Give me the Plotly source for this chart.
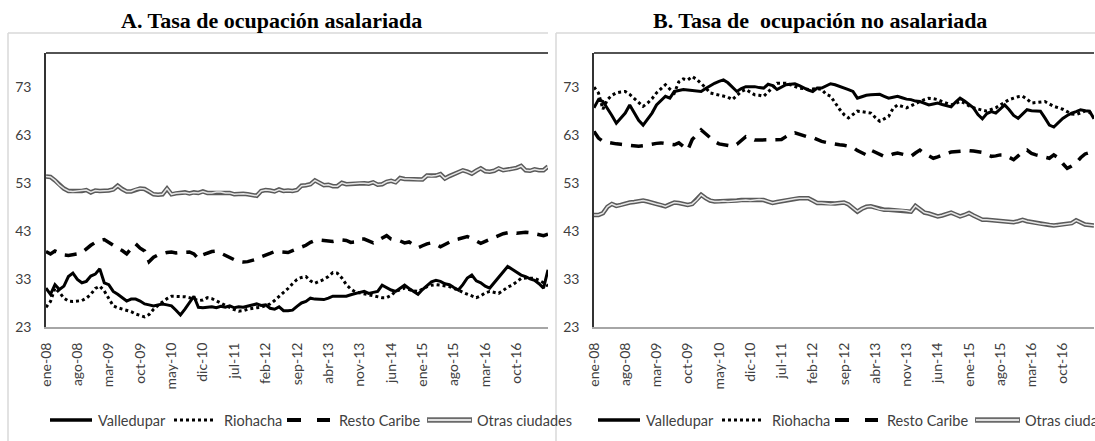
import plotly.graph_objects as go

# ---------------- data (monthly, ene-08 .. may-17) ----------------
months = list(range(113))
tick_pos = [0, 7, 14, 21, 28, 35, 42, 49, 56, 63, 70, 77, 84, 91, 98, 105]
tick_labels = ["ene-08", "ago-08", "mar-09", "oct-09", "may-10", "dic-10", "jul-11", "feb-12",
               "sep-12", "abr-13", "nov-13", "jun-14", "ene-15", "ago-15", "mar-16", "oct-16"]
y_ticks = [23, 33, 43, 53, 63, 73]

series_names = ["Valledupar", "Riohacha", "Resto Caribe", "Otras ciudades"]

A_valledupar = [
    31.1, 29.8, 31.8, 30.8, 31.5, 33.5, 34.2, 32.9, 32.2, 32.5,
    33.6, 34.0, 35.1, 32.2, 31.8, 30.4, 29.8, 29.1, 28.4, 28.8,
    28.8, 28.4, 27.8, 27.6, 27.4, 27.6, 27.8, 27.6, 27.4, 26.5,
    25.5, 26.7, 28.0, 29.4, 27.1, 27.0, 27.1, 27.2, 27.0, 27.3,
    27.1, 27.4, 27.0, 27.2, 27.1, 27.3, 27.6, 27.8, 27.5, 27.6,
    26.9, 26.7, 27.2, 26.4, 26.4, 26.5, 27.3, 28.0, 28.3, 29.0,
    28.8, 28.7, 28.7, 29.0, 29.4, 29.4, 29.4, 29.4, 29.7, 30.0,
    30.2, 30.4, 30.0, 30.2, 30.4, 31.7, 31.2, 30.7, 30.4, 31.0,
    31.7, 31.0, 30.4, 29.8, 30.8, 31.7, 32.4, 32.7, 32.5, 32.0,
    31.8, 31.2, 30.7, 31.8, 33.2, 33.8, 32.6, 32.2, 31.5, 31.1,
    32.2, 33.5, 34.6, 35.6, 35.0, 34.4, 33.8, 33.5, 33.0, 32.7,
    32.0, 31.1, 34.9]

A_riohacha = [
    27.1, 28.3, 31.1, 30.2, 29.0, 28.4, 28.3, 28.4, 28.5, 29.0,
    29.8, 31.0, 31.5, 30.5, 29.0, 27.4, 27.0, 26.7, 26.5, 26.2,
    25.7, 25.4, 25.1, 25.6, 26.7, 27.5, 28.2, 28.9, 29.4, 29.4,
    29.4, 29.3, 29.1, 28.8, 28.5, 28.6, 29.1, 28.9, 28.5, 28.0,
    27.5, 27.0, 26.6, 26.3, 26.4, 26.7, 26.9, 27.0, 27.1, 27.4,
    27.8, 28.5, 29.3, 30.2, 31.0, 32.0, 32.9, 33.3, 33.5, 32.6,
    32.1, 32.5, 32.9, 33.5, 34.3, 34.2, 33.2, 31.8, 30.9, 30.3,
    30.1, 29.9, 29.6, 29.4, 29.2, 29.1, 29.1, 29.6, 30.4, 30.8,
    31.1, 30.8, 30.5, 30.4, 30.9, 31.4, 31.7, 31.8, 31.7, 31.6,
    31.4, 31.0, 30.7, 30.2, 29.8, 29.4, 29.1, 29.5, 30.1, 30.4,
    30.2, 30.0, 30.6, 31.3, 31.7, 32.4, 33.1, 33.2, 33.1, 33.1,
    32.7, 32.2, 31.5]

A_resto = [
    38.7, 38.2, 38.8, 38.3, 38.0, 37.9, 38.0, 38.2, 38.5, 39.3,
    40.0, 40.6, 41.0, 41.2, 40.6, 39.8, 39.4, 38.9, 38.2, 39.3,
    40.3, 39.4, 38.8, 36.6, 37.5, 38.0, 38.3, 38.5, 38.6, 38.4,
    38.5, 38.5, 38.6, 38.2, 37.2, 38.0, 38.3, 38.7, 38.8, 38.3,
    37.8, 37.3, 37.0, 36.6, 36.5, 36.6, 36.8, 37.1, 37.6, 37.9,
    38.3, 38.7, 38.6, 38.6, 38.5, 38.9, 39.3, 39.5, 40.0, 40.6,
    41.0, 41.1, 41.0, 40.8, 40.8, 41.0, 41.1, 41.0, 40.6, 40.7,
    41.3, 41.3, 40.9, 40.5, 41.0, 41.5, 42.0, 41.3, 41.1, 40.9,
    40.5, 40.7, 40.1, 39.5, 39.9, 40.3, 40.5, 40.2, 39.7, 40.2,
    40.7, 41.1, 41.3, 41.6, 41.8, 41.4, 40.8, 40.4, 40.8, 41.2,
    41.6, 42.0, 42.4, 42.6, 42.7, 42.5, 42.6, 42.7, 42.6, 42.4,
    42.2, 42.0, 42.3]

A_otras = [
    54.3, 54.2, 53.5, 52.5, 51.8, 51.3, 51.2, 51.3, 51.3, 51.5,
    51.0, 51.4, 51.3, 51.3, 51.4, 51.6, 52.4, 51.7, 51.2, 51.2,
    51.6, 51.8, 51.7, 51.2, 50.6, 50.5, 50.6, 51.8, 50.6, 50.8,
    50.9, 51.0, 50.8, 51.0, 50.9, 51.2, 50.9, 50.9, 51.1, 51.1,
    50.9, 50.9, 50.6, 50.7, 50.7, 50.6, 50.4, 50.3, 51.3, 51.5,
    51.4, 51.2, 51.6, 51.3, 51.4, 51.3, 51.5, 52.4, 52.5, 52.7,
    53.5, 53.0, 52.5, 52.6, 52.3, 52.3, 53.0, 52.7, 52.8, 52.9,
    52.9, 52.9, 52.8, 53.1, 52.6, 52.7, 53.2, 53.4, 53.1, 54.0,
    53.8, 53.8, 53.7, 53.7, 53.7, 54.5, 54.4, 54.5, 54.8, 53.9,
    54.4, 54.8, 55.2, 55.6, 55.3, 54.9, 55.5, 56.0, 55.4, 55.3,
    55.5, 56.0, 55.6, 55.7, 55.9, 56.1, 56.5, 55.6, 55.5, 55.8,
    55.6, 55.6, 56.4]

B_valledupar = [
    68.6, 70.3, 69.9, 68.5, 67.0, 65.4, 66.5, 67.5, 69.2, 67.5,
    66.0, 65.0, 66.2, 67.5, 69.2, 70.2, 71.0, 70.6, 72.0, 72.2,
    72.4, 72.3, 72.2, 72.1, 72.0, 72.6, 73.2, 73.7, 74.1, 74.4,
    73.8, 73.0, 72.0, 72.6, 73.0, 73.0, 73.0, 72.8, 72.7, 73.5,
    73.2, 72.4, 72.9, 73.4, 73.5, 73.6, 73.2, 72.7, 72.3, 72.0,
    72.7, 72.7, 73.2, 73.6, 73.4, 73.1, 72.8, 72.4, 72.0, 70.6,
    70.9, 71.2, 71.3, 71.4, 71.4, 71.0, 70.6, 70.8, 71.0, 70.7,
    70.4, 70.3, 70.0, 69.9, 69.6, 69.2, 69.4, 69.6, 69.3, 69.0,
    68.8, 69.8, 70.6, 70.0, 69.2, 68.6, 67.2, 66.3, 67.4, 67.8,
    67.5, 68.3, 69.2, 68.2, 67.0, 66.4, 67.4, 68.2, 68.0, 67.9,
    67.9, 66.5, 65.0, 64.6, 65.6, 66.4, 67.0, 67.5, 67.8, 68.2,
    68.0, 67.9, 66.3]

B_riohacha = [
    72.9, 71.7, 68.3, 70.3, 71.2, 71.7, 71.9, 72.0, 71.4, 70.6,
    69.6, 68.9, 69.6, 70.5, 71.7, 72.6, 73.4, 72.5, 71.7, 74.0,
    74.6, 74.4, 75.1, 74.5, 73.7, 72.8, 71.7, 71.5, 71.2, 71.0,
    70.8, 70.3, 71.2, 72.0, 72.4, 71.8, 71.3, 71.2, 71.0, 71.9,
    72.8, 73.7, 73.7, 73.7, 73.4, 73.0, 72.7, 72.6, 72.4, 72.5,
    72.6, 72.4, 71.4, 71.0, 69.6, 68.3, 67.2, 66.5, 67.2, 67.9,
    67.8, 67.6, 67.5, 66.6, 65.8, 66.3, 66.8, 68.5, 69.2, 68.9,
    68.6, 69.0, 69.5, 69.9, 70.3, 70.6, 70.5, 70.3, 69.9, 69.5,
    69.2, 69.5, 69.9, 69.6, 69.0, 68.6, 68.3, 68.1, 67.9, 68.2,
    68.6, 69.2, 69.8, 70.3, 70.6, 70.9, 71.0, 70.4, 69.6, 69.7,
    69.8, 69.9, 69.4, 68.9, 68.6, 68.3, 67.8, 67.3, 67.2, 67.6,
    67.9, 67.6, 67.2]

B_resto = [
    63.7, 62.3, 61.6, 61.4, 61.3, 61.1, 61.0, 60.9, 60.7, 60.6,
    60.6, 60.7, 60.9, 61.1, 61.2, 61.3, 61.2, 61.0, 60.9, 61.3,
    60.6, 59.8, 62.0, 63.0, 64.0, 63.2, 62.3, 61.6, 61.1, 60.9,
    60.7, 60.6, 61.0, 61.8, 62.6, 62.3, 61.9, 61.9, 61.9, 61.9,
    61.9, 62.0, 62.0, 62.6, 63.2, 63.4, 63.1, 62.7, 62.5, 62.4,
    62.0, 61.6, 61.4, 61.2, 61.0, 60.9, 60.8, 60.6, 60.4, 59.7,
    59.2, 58.8, 59.8, 59.4, 59.0, 58.5, 58.6, 59.0, 59.2, 59.0,
    58.8, 58.5, 59.2, 59.8, 59.1, 58.5, 58.1, 58.4, 58.8, 59.1,
    59.4, 59.5, 59.6, 59.7, 59.7, 59.6, 59.5, 59.3, 58.9, 58.5,
    58.6, 58.8, 58.8, 58.2, 57.8, 58.6, 59.4, 59.8, 59.1, 58.8,
    58.6, 58.3, 58.1, 58.8, 58.2, 57.0, 56.0, 56.5, 57.1, 58.2,
    59.0, 59.3, 59.5]

B_otras = [
    46.3, 46.3, 46.7, 48.0, 48.6, 48.2, 48.4, 48.7, 48.9, 49.0,
    49.1, 49.3, 49.1, 48.8, 48.6, 48.4, 48.1, 48.5, 48.9, 48.8,
    48.6, 48.4, 48.6, 49.4, 50.5, 49.8, 49.3, 49.1, 49.1, 49.2,
    49.1, 49.2, 49.3, 49.4, 49.4, 49.3, 49.4, 49.5, 49.4, 49.1,
    48.8, 49.0, 49.2, 49.3, 49.5, 49.7, 49.8, 49.8, 49.8, 49.3,
    48.8, 48.8, 48.7, 48.6, 48.7, 48.8, 48.9, 48.5, 47.8, 47.0,
    47.6, 48.0, 48.1, 47.8, 47.5, 47.4, 47.4, 47.3, 47.3, 47.3,
    47.2, 47.0, 48.2, 47.5, 46.8, 46.6, 46.3, 46.0, 46.2, 46.5,
    46.8, 46.4, 46.0, 46.3, 46.7, 46.2, 45.7, 45.3, 45.3, 45.2,
    45.2, 45.1, 45.0, 44.9, 44.8, 45.0, 45.3, 45.0, 44.8, 44.6,
    44.5, 44.4, 44.2, 44.1, 44.2, 44.3, 44.4, 44.6, 45.2, 44.8,
    44.3, 44.2, 44.1]

# ---------------- styling ----------------
W, H = 1095, 441
TICK_FONT = dict(family="Lato, Carlito, sans-serif", size=14, color="#404040")
TITLE_FONT = dict(family="Liberation Serif, Times New Roman, serif", size=22, color="#000000")

styles = {
    "Valledupar": dict(color="#000000", width=3, dash="solid"),
    "Riohacha": dict(color="#000000", width=3, dash="dot"),
    "Resto Caribe": dict(color="#000000", width=3.5, dash="12px,9px"),
}

panels = [
    dict(x="x", y="y", x0=46, x1=548, frame=(8, 548),
         data={"Valledupar": A_valledupar, "Riohacha": A_riohacha,
               "Resto Caribe": A_resto, "Otras ciudades": A_otras},
         title="A. Tasa de ocupación asalariada", tx=271),
    dict(x="x2", y="y2", x0=594, x1=1094, frame=(556, 1096),
         data={"Valledupar": B_valledupar, "Riohacha": B_riohacha,
               "Resto Caribe": B_resto, "Otras ciudades": B_otras},
         title="B. Tasa de\u00a0 ocupación no asalariada", tx=820),
]

fig = go.Figure()
shapes = []
annotations = []
PLOT_TOP, PLOT_BOTTOM = 53, 327

def px(v):
    return v / W

def py(v):
    return 1 - v / H

for i, p in enumerate(panels):
    d = p["data"]
    # double line (Otras ciudades)
    fig.add_trace(go.Scatter(x=months, y=d["Otras ciudades"], xaxis=p["x"], yaxis=p["y"],
                             mode="lines", line=dict(color="#5a5a5a", width=4.5),
                             showlegend=False, hoverinfo="skip"))
    fig.add_trace(go.Scatter(x=months, y=d["Otras ciudades"], xaxis=p["x"], yaxis=p["y"],
                             mode="lines", line=dict(color="#e6e6e6", width=1.5),
                             showlegend=False, name="Otras ciudades"))
    for name in ["Resto Caribe", "Riohacha", "Valledupar"]:
        fig.add_trace(go.Scatter(x=months, y=d[name], xaxis=p["x"], yaxis=p["y"],
                                 mode="lines", name=name, line=styles[name],
                                 showlegend=False))

    # outer light frame of each chart
    fx0, fx1 = p["frame"]
    shapes.append(dict(type="line", xref="paper", yref="paper", x0=px(fx0), x1=px(fx1),
                       y0=py(33), y1=py(33), line=dict(color="#d9d9d9", width=1.5)))
    shapes.append(dict(type="line", xref="paper", yref="paper", x0=px(fx0), x1=px(fx0),
                       y0=py(33), y1=0, line=dict(color="#d9d9d9", width=1.5)))
    # top border of plot area
    shapes.append(dict(type="line", xref="paper", yref="paper", x0=px(p["x0"]), x1=px(p["x1"]),
                       y0=py(PLOT_TOP), y1=py(PLOT_TOP), line=dict(color="#1a1a1a", width=1.5)))

    # title
    annotations.append(dict(text="<b>%s</b>" % p["title"], xref="paper", yref="paper",
                            x=px(p["tx"]), y=py(20), xanchor="center", yanchor="middle",
                            showarrow=False, font=TITLE_FONT))

    # manual legend
    LY = py(420)
    base = p["x0"]
    shapes.append(dict(type="line", xref="paper", yref="paper", x0=px(base + 4), x1=px(base + 46),
                       y0=LY, y1=LY, line=dict(color="#000000", width=3.5)))
    shapes.append(dict(type="line", xref="paper", yref="paper", x0=px(base + 128), x1=px(base + 167),
                       y0=LY, y1=LY, line=dict(color="#000000", width=3, dash="dot")))
    shapes.append(dict(type="line", xref="paper", yref="paper", x0=px(base + 241), x1=px(base + 284),
                       y0=LY, y1=LY, line=dict(color="#000000", width=4, dash="14px,16px")))
    shapes.append(dict(type="line", xref="paper", yref="paper", x0=px(base + 381), x1=px(base + 426),
                       y0=LY, y1=LY, line=dict(color="#6a6a6a", width=5.5)))
    shapes.append(dict(type="line", xref="paper", yref="paper", x0=px(base + 382), x1=px(base + 425),
                       y0=LY, y1=LY, line=dict(color="#e0e0e0", width=2)))
    for name, off in zip(series_names, [50, 176, 291, 429]):
        annotations.append(dict(text=name, xref="paper", yref="paper", x=px(base + off), y=LY,
                                xanchor="left", yanchor="middle", showarrow=False,
                                font=dict(family="Lato, Carlito, sans-serif", size=14.5, color="#404040")))

axis_common_x = dict(range=[0, 112], tickmode="array", tickvals=tick_pos, ticktext=tick_labels,
                     tickangle=-90, showgrid=False, zeroline=False, showline=True,
                     linecolor="#a6a6a6", linewidth=2, ticks="", tickfont=TICK_FONT,
                     ticklabelstandoff=8, automargin=False)
axis_common_y = dict(range=[23, 80], tickmode="array", tickvals=y_ticks, showgrid=False,
                     zeroline=False, showline=True, linecolor="#333333", linewidth=1.5,
                     ticks="", tickfont=TICK_FONT, ticklabelstandoff=10, automargin=False)

fig.update_layout(
    template="none",
    width=W, height=H,
    margin=dict(l=0, r=0, t=0, b=0, pad=0, autoexpand=False),
    paper_bgcolor="white", plot_bgcolor="white",
    showlegend=False,
    xaxis=dict(domain=[px(46), px(548)], anchor="y", **axis_common_x),
    yaxis=dict(domain=[py(PLOT_BOTTOM), py(PLOT_TOP)], anchor="x", **axis_common_y),
    xaxis2=dict(domain=[px(594), px(1094)], anchor="y2", **axis_common_x),
    yaxis2=dict(domain=[py(PLOT_BOTTOM), py(PLOT_TOP)], anchor="x2", **axis_common_y),
    shapes=shapes,
    annotations=annotations,
)

# remove the browser's default 8px page margin so the figure sits at the window's corner
fig.write_html("out.html",
               config={"displayModeBar": False},
               post_script="document.body.style.margin='0px';document.body.style.overflow='hidden';")
